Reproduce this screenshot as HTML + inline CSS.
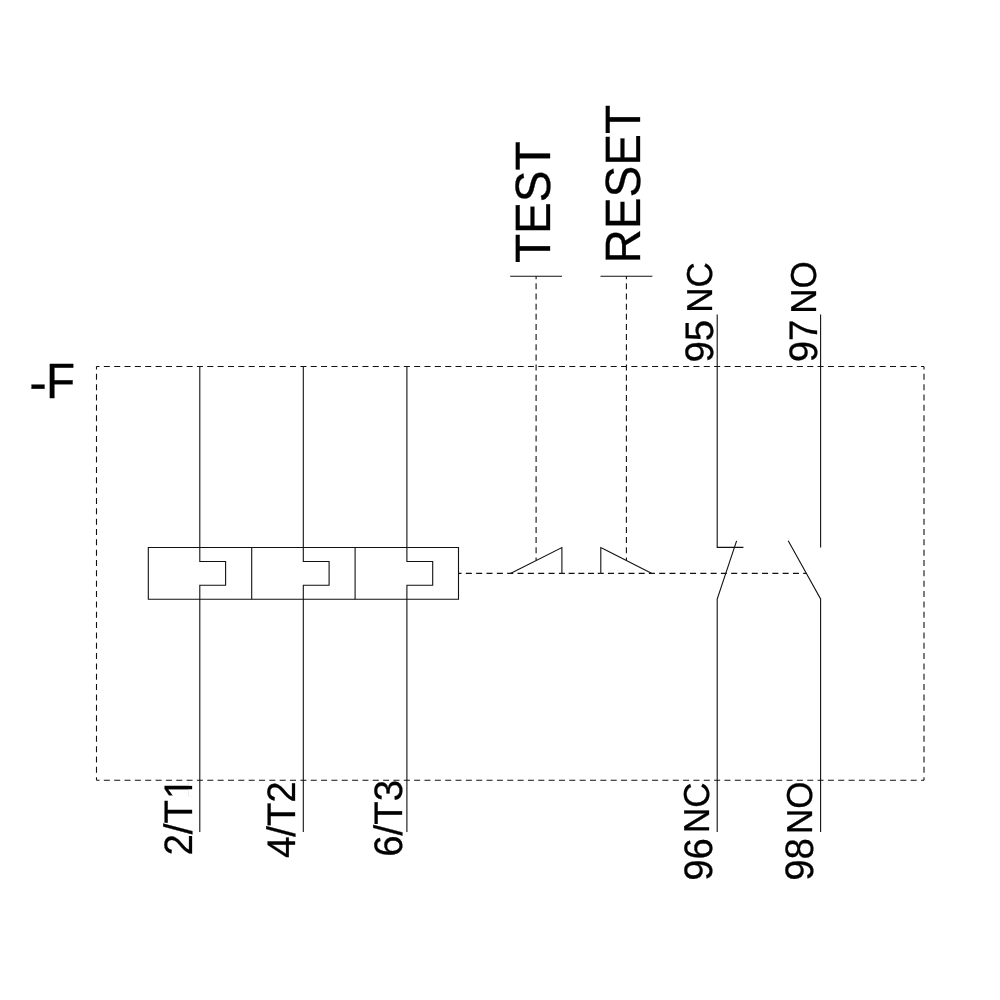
<!DOCTYPE html>
<html><head><meta charset="utf-8"><title>-F overload relay</title>
<style>
html,body{margin:0;padding:0;background:#fff;}
body{width:1000px;height:1000px;overflow:hidden;}
svg{display:block;}
svg text{font-family:"Liberation Sans",Arial,Helvetica,sans-serif;fill:#000;stroke:#000;stroke-width:0.3px;text-rendering:geometricPrecision;}
</style></head><body>
<svg width="1000" height="1000" viewBox="0 0 1000 1000">
<rect width="1000" height="1000" fill="#fff"/>
<g style="opacity:0.999">
<text transform="translate(29.3 401.0) scale(1.108 1.13)" font-size="47.6">-</text>
<text transform="translate(45.95 398.4) scale(1 1.042)" font-size="47.6">F</text>
<text transform="translate(549.9 263.0) rotate(-90) scale(1 1.042)" font-size="47.6">TEST</text>
<text transform="translate(640.0 263.6) rotate(-90) scale(1 1.042)" font-size="47.6">RESET</text>
<text transform="translate(192.4 855.6) rotate(-90) scale(1 1.035)" font-size="38.4">2/T<tspan dx="1.2">1</tspan></text>
<text transform="translate(295.4 858.1) rotate(-90) scale(1 1.035)" font-size="38.4">4/T2</text>
<text transform="translate(402.0 856.8) rotate(-90) scale(1 1.035)" font-size="38.4">6/T3</text>
<text transform="translate(712.8 362.5) rotate(-90) scale(1 1.035)" font-size="38.4">95</text>
<text transform="translate(712.1 312.8) rotate(-90) scale(1 1.03)" font-size="35.0">NC</text>
<text transform="translate(817.0 362.3) rotate(-90) scale(1 1.035)" font-size="38.4">97</text>
<text transform="translate(816.0 313.8) rotate(-90) scale(1 1.03)" font-size="35.0">NO</text>
<text transform="translate(711.8 880.8) rotate(-90) scale(1 1.035)" font-size="38.4">96</text>
<text transform="translate(709.1 833.1) rotate(-90) scale(1 1.03)" font-size="35.0">NC</text>
<text transform="translate(812.55 880.8) rotate(-90) scale(1 1.035)" font-size="38.4">98</text>
<text transform="translate(811.6 834.0) rotate(-90) scale(1 1.03)" font-size="35.0">NO</text>
</g>
<rect x="188.6" y="778.5" width="4.8" height="7.37" fill="#fff"/>
<rect x="188.6" y="789.26" width="4.8" height="7.6" fill="#fff"/>
<g fill="none" stroke="#111" stroke-width="1.1" stroke-linecap="butt" stroke-linejoin="miter">
<line x1="96.50" y1="366.50" x2="924.00" y2="366.50" stroke-dasharray="6 4.3438" stroke-dashoffset="3"/>
<line x1="96.50" y1="780.20" x2="924.00" y2="780.20" stroke-dasharray="6 4.3438" stroke-dashoffset="3"/>
<line x1="96.50" y1="366.50" x2="96.50" y2="780.20" stroke-dasharray="6 4.3425" stroke-dashoffset="3"/>
<line x1="924.00" y1="366.50" x2="924.00" y2="780.20" stroke-dasharray="6 4.3425" stroke-dashoffset="3"/>
<path d="M199.8 366.5 V561.5 H225.60000000000002 V585.3 H199.8 V832" />
<path d="M303.3 366.5 V561.5 H329.1 V585.3 H303.3 V832" />
<path d="M406.9 366.5 V561.5 H432.7 V585.3 H406.9 V832" />
<path d="M148.3 547.5 H458.5 V599.3 H148.3 Z" />
<line x1="251.70" y1="547.50" x2="251.70" y2="599.30" />
<line x1="355.10" y1="547.50" x2="355.10" y2="599.30" />
<line x1="458.50" y1="573.40" x2="561.90" y2="573.40" stroke-dasharray="6 4.3400" stroke-dashoffset="3"/>
<line x1="561.90" y1="573.40" x2="600.80" y2="573.40" stroke-dasharray="6 3.7250" stroke-dashoffset="3"/>
<line x1="600.80" y1="573.40" x2="651.90" y2="573.40" stroke-dasharray="6 4.2200" stroke-dashoffset="3"/>
<line x1="651.90" y1="573.40" x2="806.20" y2="573.40" stroke-dasharray="6 4.2867" stroke-dashoffset="3"/>
<path d="M510.4 573.4 L561.9 547.6 V573.4" />
<line x1="510.20" y1="276.20" x2="562.00" y2="276.20" />
<line x1="536.10" y1="276.20" x2="536.10" y2="560.40" stroke-dasharray="6 4.1500" stroke-dashoffset="3"/>
<path d="M600.8 573.4 V547.6 L651.9 573.4" />
<line x1="600.50" y1="276.20" x2="652.40" y2="276.20" />
<line x1="626.40" y1="276.20" x2="626.40" y2="560.40" stroke-dasharray="6 4.1500" stroke-dashoffset="3"/>
<path d="M717.2 314.5 V547.4 H743.4" />
<path d="M736.6 540.8 L717.2 599 V832" />
<path d="M820.6 314.5 V547.4" />
<path d="M788.2 540.8 L820.6 599 V832" />
</g>
</svg>
</body></html>
